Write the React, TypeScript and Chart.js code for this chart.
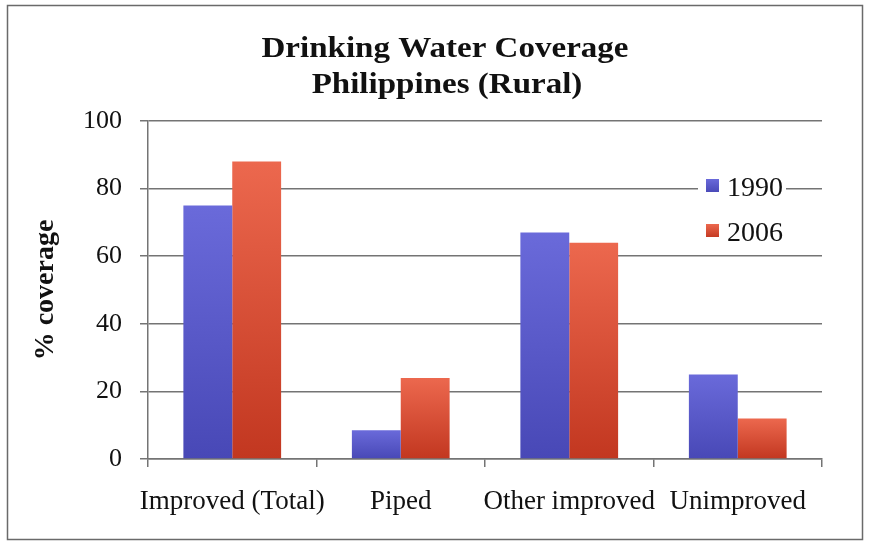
import React, { useEffect, useRef } from "react";
import { Chart, registerables } from "chart.js";

Chart.register(...registerables);

const categories = ["Improved (Total)", "Piped", "Other improved", "Unimproved"];
const seriesLabels = ["1990", "2006"];
const values1990 = [75, 8.5, 67, 25];
const values2006 = [88, 24, 64, 12];
const titleLines = ["Drinking Water Coverage", "Philippines (Rural)"];
const yAxisTitle = "% coverage";
const yMin = 0;
const yMax = 100;
const yStep = 20;

const palettes = [
  { top: "#6a6ada", bottom: "#4848b6" },
  { top: "#ec684e", bottom: "#c23720" },
];

const SERIF = "'Liberation Serif', 'Times New Roman', serif";

function barGradient(dsIndex: number) {
  return (ctx: any) => {
    const chart = ctx.chart;
    const pal = palettes[dsIndex];
    if (!chart.chartArea || ctx.type !== "data") return pal.top;
    const y = chart.scales.y;
    const v = ctx.raw as number;
    const t = y.getPixelForValue(v);
    const b = y.getPixelForValue(0);
    const g = chart.ctx.createLinearGradient(0, t, 0, Math.max(b, t + 1));
    g.addColorStop(0, pal.top);
    g.addColorStop(1, pal.bottom);
    return g;
  };
}

const framePlugin = {
  id: "frameAndTitle",
  beforeDraw(chart: any) {
    const c = chart.ctx;
    c.save();
    c.fillStyle = "#ffffff";
    c.fillRect(0, 0, chart.width, chart.height);
    c.restore();
  },
  afterDraw(chart: any) {
    const c = chart.ctx;
    c.save();
    c.strokeStyle = "#6a6a6a";
    c.lineWidth = 1.5;
    c.strokeRect(7.5, 5.5, chart.width - 14, chart.height - 10);

    // title (bold serif, widened to match the reference's Cambria)
    c.fillStyle = "#111";
    c.font = `bold 29px ${SERIF}`;
    c.textAlign = "center";
    c.textBaseline = "alphabetic";
    const w0 = c.measureText(titleLines[0]).width;
    const sx = 367 / w0;
    c.save();
    c.translate(445, 57);
    c.scale(sx, 1);
    c.fillText(titleLines[0], 0, 0);
    c.restore();
    c.save();
    c.translate(447, 93);
    c.scale(sx, 1);
    c.fillText(titleLines[1], 0, 0);
    c.restore();

    // legend
    const lx = 698;
    const ly = 166;
    c.fillStyle = "#ffffff";
    c.fillRect(lx, ly, 88, 84);
    const rows = [186, 231];
    chart.data.datasets.forEach((ds: any, i: number) => {
      const yc = rows[i];
      const pal = palettes[i];
      const g = c.createLinearGradient(0, yc - 7, 0, yc + 7);
      g.addColorStop(0, pal.top);
      g.addColorStop(1, pal.bottom);
      c.fillStyle = g;
      c.fillRect(lx + 8, yc - 7, 13, 13);
      c.fillStyle = "#111";
      c.font = `28px ${SERIF}`;
      c.textAlign = "left";
      c.textBaseline = "alphabetic";
      c.fillText(ds.label, lx + 29, yc + 10);
    });
    c.restore();
  },
};

export default function App() {
  const ref = useRef<HTMLCanvasElement | null>(null);
  useEffect(() => {
    document.body.style.margin = "0";
    const canvas = ref.current!;
    const chart = new Chart(canvas, {
      type: "bar",
      data: {
        labels: categories,
        datasets: [
          { label: seriesLabels[0], data: values1990, backgroundColor: barGradient(0), borderWidth: 0 },
          { label: seriesLabels[1], data: values2006, backgroundColor: barGradient(1), borderWidth: 0 },
        ],
      },
      options: {
        responsive: false,
        animation: false,
        devicePixelRatio: 1,
        layout: { padding: { left: 20, right: 47, top: 121, bottom: 10 } },
        datasets: { bar: { categoryPercentage: 0.58, barPercentage: 1.0 } },
        plugins: {
          legend: { display: false },
          title: { display: false },
          tooltip: { enabled: false },
        },
        scales: {
          x: {
            afterFit: (s: any) => { s.height = 75; },
            grid: { offset: true, drawOnChartArea: false, tickLength: 8, color: "#747474", lineWidth: 1.5 },
            border: { display: true, color: "#747474", width: 1.5 },
            ticks: { color: "#111", font: { family: SERIF, size: 27 }, padding: 19, maxRotation: 0, autoSkip: false },
          },
          y: {
            min: yMin,
            max: yMax,
            afterFit: (s: any) => { s.width = 128; },
            grid: { color: "#747474", lineWidth: 1.5, tickLength: 8 },
            border: { display: true, color: "#747474", width: 1.5 },
            ticks: { stepSize: yStep, color: "#111", font: { family: SERIF, size: 26 }, padding: 18 },
            title: {
              display: true,
              text: yAxisTitle,
              color: "#111",
              font: { family: SERIF, size: 28, weight: "bold" },
              padding: { top: 9, bottom: 0 },
            },
          },
        },
      },
      plugins: [framePlugin],
    });
    return () => chart.destroy();
  }, []);
  return <canvas ref={ref} width={869} height={544} style={{ display: "block" }} />;
}
